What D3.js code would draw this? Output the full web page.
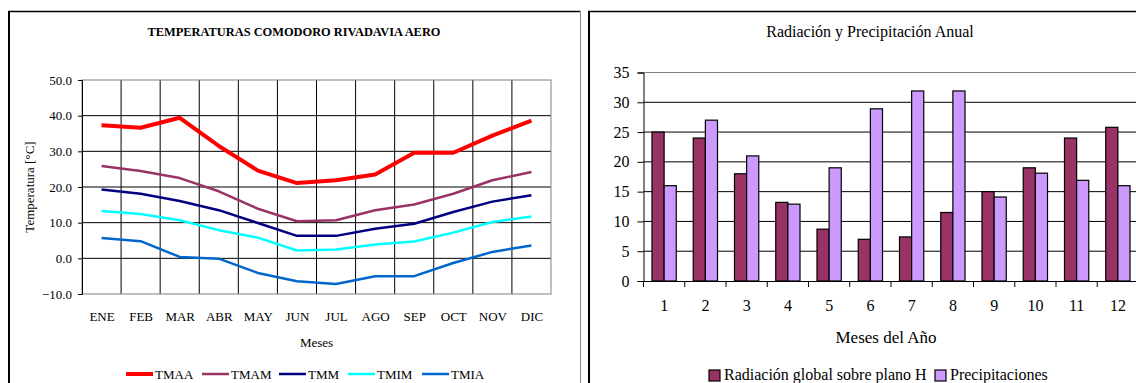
<!DOCTYPE html>
<html>
<head>
<meta charset="utf-8">
<script src="https://cdn.jsdelivr.net/npm/d3@7/dist/d3.min.js"></script>
<style>
  html, body { margin: 0; padding: 0; background: #fff; }
  svg { display: block; }
  svg text { font-family: "Liberation Serif", "Times New Roman", serif !important; fill: #000; }
</style>
</head>
<body>
<svg id="chart" width="1136" height="383"></svg>
<script>
// ---- Temperature chart data (°C) ----
const months = ["ENE", "FEB", "MAR", "ABR", "MAY", "JUN", "JUL", "AGO", "SEP", "OCT", "NOV", "DIC"];
const tmaa = [37.3, 36.6, 39.4, 31.5, 24.6, 21.1, 21.9, 23.5, 29.6, 29.6, 34.4, 38.6];
const tmam = [25.9, 24.5, 22.5, 18.8, 13.9, 10.4, 10.7, 13.5, 15.1, 18.1, 21.9, 24.2];
const tmm  = [19.3, 18.1, 16.1, 13.5, 9.9, 6.3, 6.3, 8.3, 9.7, 13.0, 15.9, 17.7];
const tmim = [13.3, 12.4, 10.7, 7.9, 5.8, 2.2, 2.5, 3.9, 4.7, 7.2, 10.2, 11.7];
const tmia = [5.7, 4.8, 0.4, -0.1, -4.1, -6.4, -7.2, -5.0, -5.0, -1.3, 1.8, 3.6];
const tempTicks = [-10, 0, 10, 20, 30, 40, 50];

// ---- Radiation / precipitation chart data ----
const monthNumbers = ["1", "2", "3", "4", "5", "6", "7", "8", "9", "10", "11", "12"];
const radiacion = [25, 24, 18, 13.2, 8.7, 7, 7.4, 11.5, 15, 19, 24, 25.8];
const precipitaciones = [16, 27, 21, 12.9, 19, 28.9, 31.9, 31.9, 14.1, 18.1, 16.9, 16];
const barTicks = [0, 5, 10, 15, 20, 25, 30, 35];

const svg = d3.select("#chart");

// ================= Left chart: temperatures =================
const L = { left: 82, right: 551, top: 80, bottom: 294 };
const left = svg.append("g");

// frame
left.append("line").attr("x1", 9).attr("x2", 9).attr("y1", 11).attr("y2", 383).attr("stroke", "#000").attr("stroke-width", 2);
left.append("line").attr("x1", 8).attr("x2", 580).attr("y1", 11.5).attr("y2", 11.5).attr("stroke", "#000").attr("stroke-width", 1.5);
left.append("line").attr("x1", 580.5).attr("x2", 580.5).attr("y1", 11).attr("y2", 383).attr("stroke", "#888").attr("stroke-width", 1);

const xBand = d3.scaleBand().domain(months).range([L.left, L.right]);
const xPoint = d3.scalePoint().domain(months).range([L.left, L.right]).padding(0.5);
const yT = d3.scaleLinear().domain([-10, 50]).range([L.bottom, L.top]);

// grid
left.append("g").selectAll("line").data(months.slice(1)).join("line")
  .attr("x1", d => xBand(d)).attr("x2", d => xBand(d))
  .attr("y1", L.top).attr("y2", L.bottom)
  .attr("stroke", "#000").attr("stroke-width", 1);
left.append("g").selectAll("line").data(tempTicks.slice(1, -1)).join("line")
  .attr("x1", L.left).attr("x2", L.right)
  .attr("y1", d => yT(d)).attr("y2", d => yT(d))
  .attr("stroke", "#000").attr("stroke-width", 1);
left.append("rect").attr("x", L.left).attr("y", L.top)
  .attr("width", L.right - L.left).attr("height", L.bottom - L.top)
  .attr("fill", "none").attr("stroke", "#808080").attr("stroke-width", 1);

// y axis
const yAxisL = d3.axisLeft(yT).tickValues(tempTicks).tickSize(4).tickPadding(6).tickFormat(d3.format(".1f"));
const gyL = left.append("g").attr("transform", `translate(${L.left},0)`).call(yAxisL);
gyL.select(".domain").attr("stroke", "#000");
gyL.selectAll(".tick line").attr("stroke", "#000");
gyL.selectAll("text").attr("font-size", 13);

// x labels
const gxL = left.append("g").attr("transform", `translate(0,${L.bottom})`)
  .call(d3.axisBottom(xPoint).tickSize(0).tickPadding(18));
gxL.select(".domain").remove();
gxL.selectAll("text").attr("font-size", 13);

// titles
left.append("text").attr("x", 294).attr("y", 36).attr("text-anchor", "middle")
  .attr("font-size", 12.4).attr("font-weight", "bold").text("TEMPERATURAS COMODORO RIVADAVIA AERO");
left.append("text").attr("x", (L.left + L.right) / 2).attr("y", 347).attr("text-anchor", "middle")
  .attr("font-size", 13).text("Meses");
left.append("text").attr("transform", `translate(34,${(L.top + L.bottom) / 2}) rotate(-90)`)
  .attr("text-anchor", "middle").attr("font-size", 13).text("Temperatura [°C]");

// series
const tempSeries = [
  { name: "TMAA", values: tmaa, color: "#FF0000", width: 4 },
  { name: "TMAM", values: tmam, color: "#993366", width: 2.5 },
  { name: "TMM",  values: tmm,  color: "#000080", width: 2.5 },
  { name: "TMIM", values: tmim, color: "#00FFFF", width: 2.5 },
  { name: "TMIA", values: tmia, color: "#0066CC", width: 2.5 }
];
const line = d3.line().x((d, i) => xPoint(months[i])).y(d => yT(d));
left.append("g").selectAll("path").data(tempSeries.slice().reverse()).join("path")
  .attr("d", s => line(s.values))
  .attr("fill", "none").attr("stroke", s => s.color).attr("stroke-width", s => s.width)
  .attr("stroke-linejoin", "round");

// legend
const legendX = [126, 202, 279, 348, 422];
const lg = left.append("g").selectAll("g").data(tempSeries).join("g")
  .attr("transform", (s, i) => `translate(${legendX[i]},374)`);
lg.append("line").attr("x1", 0).attr("x2", 27).attr("y1", 0).attr("y2", 0)
  .attr("stroke", s => s.color).attr("stroke-width", s => s.width);
lg.append("text").attr("x", 29).attr("y", 4.5).attr("font-size", 13).text(s => s.name);

// ================= Right chart: radiation & precipitation =================
const R = { left: 643.5, right: 1138.5, top: 72.5, bottom: 281 };
const right = svg.append("g");

right.append("line").attr("x1", 589).attr("x2", 589).attr("y1", 11).attr("y2", 383).attr("stroke", "#000").attr("stroke-width", 2);
right.append("line").attr("x1", 588).attr("x2", 1136).attr("y1", 11.5).attr("y2", 11.5).attr("stroke", "#000").attr("stroke-width", 1.5);

const x0 = d3.scaleBand().domain(monthNumbers).range([R.left, R.right]);
const seriesNames = ["Radiación global sobre plano H", "Precipitaciones"];
const x1 = d3.scaleBand().domain(seriesNames).range([0, x0.bandwidth()]).paddingOuter(0.7);
const yB = d3.scaleLinear().domain([0, 35]).range([R.bottom, R.top]);
const barColors = ["#993366", "#CC99FF"];

// grid
right.append("g").selectAll("line").data(barTicks.slice(1, -1)).join("line")
  .attr("x1", R.left).attr("x2", R.right)
  .attr("y1", d => yB(d)).attr("y2", d => yB(d))
  .attr("stroke", "#000").attr("stroke-width", 1);
right.append("line").attr("x1", R.left).attr("x2", R.right)
  .attr("y1", yB(35)).attr("y2", yB(35)).attr("stroke", "#808080");

// bars
const barData = monthNumbers.map((m, i) => ({ m, vals: [radiacion[i], precipitaciones[i]] }));
const groups = right.append("g").selectAll("g").data(barData).join("g")
  .attr("transform", d => `translate(${x0(d.m)},0)`);
groups.selectAll("rect").data(d => d.vals.map((v, j) => ({ v, j }))).join("rect")
  .attr("x", d => x1(seriesNames[d.j]))
  .attr("width", x1.bandwidth())
  .attr("y", d => yB(d.v))
  .attr("height", d => yB(0) - yB(d.v))
  .attr("fill", d => barColors[d.j])
  .attr("stroke", "#000").attr("stroke-width", 1.2);

// y axis
const gyR = right.append("g").attr("transform", `translate(${R.left},0)`)
  .call(d3.axisLeft(yB).tickValues(barTicks).tickSize(6).tickPadding(8));
gyR.select(".domain").attr("stroke", "#000");
gyR.selectAll(".tick line").attr("stroke", "#000");
gyR.selectAll("text").attr("font-size", 16);

// x axis
const gxR = right.append("g").attr("transform", `translate(0,${R.bottom})`)
  .call(d3.axisBottom(x0).tickSize(0).tickPadding(19));
gxR.select(".domain").attr("stroke", "#000");
gxR.selectAll("text").attr("font-size", 16);
right.append("g").selectAll("line").data(monthNumbers).join("line")
  .attr("x1", d => x0(d)).attr("x2", d => x0(d))
  .attr("y1", R.bottom).attr("y2", R.bottom + 6)
  .attr("stroke", "#000");

// titles
right.append("text").attr("x", 870).attr("y", 37).attr("text-anchor", "middle")
  .attr("font-size", 16).text("Radiación y Precipitación Anual");
right.append("text").attr("x", 886).attr("y", 343).attr("text-anchor", "middle")
  .attr("font-size", 17).text("Meses del Año");

// legend
const legendR = [709, 935];
const lgR = right.append("g").selectAll("g").data(seriesNames).join("g")
  .attr("transform", (s, i) => `translate(${legendR[i]},370)`);
lgR.append("rect").attr("width", 11).attr("height", 11)
  .attr("fill", (s, i) => barColors[i]).attr("stroke", "#000").attr("stroke-width", 1.2);
lgR.append("text").attr("x", 15).attr("y", 9.5).attr("font-size", 16).text(s => s);
</script>
</body>
</html>
